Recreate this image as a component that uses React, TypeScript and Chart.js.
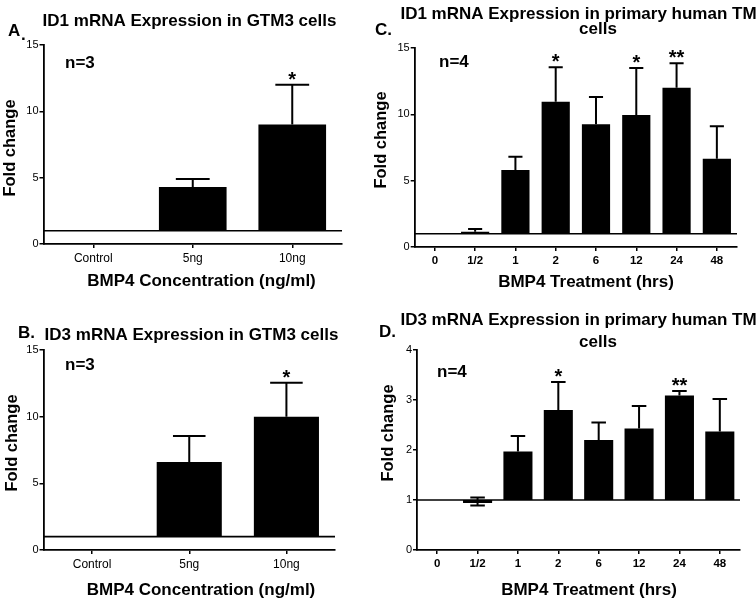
import React, { useEffect, useRef } from "react";
import { Chart, registerables } from "chart.js";

Chart.register(...registerables);

// ---- Data ----
const concCategories = ["Control", "5ng", "10ng"];
const timeCategories = ["0", "1/2", "1", "2", "6", "12", "24", "48"];

const id1GtmMeans = [1, 4.3, 9.0];
const id1GtmSem = [0, 0.6, 3.0];
const id1GtmStars = ["", "", "*"];

const id3GtmMeans = [1, 6.6, 10.0];
const id3GtmSem = [0, 1.95, 2.55];
const id3GtmStars = ["", "", "*"];

const id1TmMeans = [1, 1.15, 5.8, 10.95, 9.25, 9.95, 12.0, 6.65];
const id1TmSem = [0, 0.2, 1.0, 2.6, 2.05, 3.55, 1.85, 2.45];
const id1TmStars = ["", "", "", "*", "", "*", "**", ""];

const id3TmMeans = [1, 0.97, 1.97, 2.8, 2.2, 2.43, 3.09, 2.37];
const id3TmSem = [0, 0.08, 0.31, 0.56, 0.35, 0.45, 0.09, 0.65];
const id3TmStars = ["", "", "", "*", "", "", "**", ""];

const FONT = '"Liberation Sans", Arial, Helvetica, sans-serif';
const BASELINE = 1;

type TextItem = { text: string; x: number; y: number; size: number; bold?: boolean; rotate?: boolean; align?: CanvasTextAlign };

const annotPlugin = {
  id: "annot",
  afterDatasetsDraw(chart: any, _args: any, opts: any) {
    const { ctx, chartArea } = chart;
    const ys = chart.scales.y;
    ctx.save();
    ctx.strokeStyle = "#000";
    ctx.lineWidth = 1.6;
    const by = ys.getPixelForValue(BASELINE);
    ctx.beginPath();
    ctx.moveTo(chartArea.left, by);
    ctx.lineTo(chartArea.right, by);
    ctx.stroke();

    const meta = chart.getDatasetMeta(0);
    ctx.lineWidth = 2;
    opts.means.forEach((m: number, i: number) => {
      const s = opts.sems[i];
      const el = meta.data[i];
      if (!el) return;
      const x = el.x;
      const half = el.width / 4;
      if (s) {
        const ym = ys.getPixelForValue(m);
        const yt = ys.getPixelForValue(m + s);
        ctx.beginPath();
        ctx.moveTo(x, ym);
        ctx.lineTo(x, yt);
        ctx.moveTo(x - half, yt);
        ctx.lineTo(x + half, yt);
        if (m < BASELINE) {
          const yb = ys.getPixelForValue(m - s);
          ctx.moveTo(x, ym);
          ctx.lineTo(x, yb);
          ctx.moveTo(x - half, yb);
          ctx.lineTo(x + half, yb);
        }
        ctx.stroke();
        if (m < BASELINE) {
          ctx.lineWidth = 3;
          ctx.beginPath();
          ctx.moveTo(x - el.width / 2, ym);
          ctx.lineTo(x + el.width / 2, ym);
          ctx.stroke();
          ctx.lineWidth = 2;
        }
      }
      const star = opts.stars[i];
      if (star) {
        const yt = ys.getPixelForValue(m + s);
        ctx.fillStyle = "#000";
        ctx.font = `bold 20px ${FONT}`;
        ctx.textAlign = "center";
        ctx.textBaseline = "alphabetic";
        ctx.fillText(star, x, yt + 1);
      }
    });

    (opts.texts as TextItem[]).forEach((t) => {
      ctx.save();
      ctx.fillStyle = "#000";
      ctx.font = `${t.bold === false ? "" : "bold "}${t.size}px ${FONT}`;
      ctx.textAlign = t.align || "center";
      ctx.textBaseline = "middle";
      ctx.translate(t.x, t.y);
      if (t.rotate) ctx.rotate(-Math.PI / 2);
      ctx.fillText(t.text, 0, 0);
      ctx.restore();
    });
    ctx.restore();
  },
};

type PanelProps = {
  left: number;
  top: number;
  width: number;
  height: number;
  categories: string[];
  means: number[];
  sems: number[];
  stars: string[];
  yMax: number;
  yStep: number;
  area: { left: number; top: number; right: number; bottom: number };
  barPct: number;
  xTickBold?: boolean;
  xTickSize: number;
  texts: TextItem[];
};

function Panel(p: PanelProps) {
  const ref = useRef<HTMLCanvasElement>(null);
  useEffect(() => {
    if (!ref.current) return;
    const chart = new Chart(ref.current, {
      type: "bar",
      data: {
        labels: p.categories,
        datasets: [
          {
            data: p.means.map((m) => [BASELINE, m]) as any,
            backgroundColor: "#000",
            borderWidth: 0,
            barPercentage: p.barPct,
            categoryPercentage: 1,
          },
        ],
      },
      options: {
        responsive: false,
        animation: false,
        devicePixelRatio: 1,
        layout: {
          padding: { left: 0, top: p.area.top, right: p.width - p.area.right, bottom: 0 },
        },
        plugins: {
          legend: { display: false },
          tooltip: { enabled: false },
          title: { display: false },
          annot: { means: p.means, sems: p.sems, stars: p.stars, texts: p.texts },
        } as any,
        scales: {
          x: {
            offset: true,
            afterFit: (s: any) => {
              s.height = p.height - p.area.bottom;
            },
            grid: { drawOnChartArea: false, offset: false, color: "#000", lineWidth: 1.5, tickLength: 4 },
            border: { display: true, color: "#000", width: 1.8 },
            ticks: {
              color: "#000",
              font: { family: FONT, size: p.xTickSize, weight: p.xTickBold ? "bold" : "normal" },
              padding: 3,
              maxRotation: 0,
            },
          },
          y: {
            min: 0,
            max: p.yMax,
            afterFit: (s: any) => {
              s.width = p.area.left;
            },
            grid: { drawOnChartArea: false, color: "#000", lineWidth: 1.5, tickLength: 4 },
            border: { display: true, color: "#000", width: 1.8 },
            ticks: { stepSize: p.yStep, color: "#000", font: { family: FONT, size: 11 }, padding: 1 },
          },
        },
      },
      plugins: [annotPlugin as any],
    });
    return () => chart.destroy();
  }, []);
  return (
    <div style={{ position: "absolute", left: p.left, top: p.top, width: p.width, height: p.height }}>
      <canvas ref={ref} width={p.width} height={p.height} style={{ width: p.width, height: p.height, display: "block" }} />
    </div>
  );
}

export default function App() {
  return (
    <div style={{ position: "fixed", left: 0, top: 0, width: 756, height: 599, background: "#fff", overflow: "hidden" }}>
      <Panel
        left={0}
        top={0}
        width={366}
        height={300}
        categories={concCategories}
        means={id1GtmMeans}
        sems={id1GtmSem}
        stars={id1GtmStars}
        yMax={15}
        yStep={5}
        barPct={0.68}
        xTickSize={12}
        area={{ left: 43.5, top: 45, right: 342, bottom: 244 }}
        texts={[
          { text: "ID1 mRNA Expression in GTM3 cells", x: 189.5, y: 21, size: 17 },
          { text: "A", x: 8, y: 31, size: 17, align: "left" },
          { text: ".", x: 21, y: 35, size: 17, align: "left" },
          { text: "n=3", x: 65, y: 63, size: 17, align: "left" },
          { text: "Fold change", x: 10, y: 148, size: 16.5, rotate: true },
          { text: "BMP4 Concentration (ng/ml)", x: 201.5, y: 281, size: 17 },
        ]}
      />
      <Panel
        left={366}
        top={0}
        width={390}
        height={300}
        categories={timeCategories}
        means={id1TmMeans}
        sems={id1TmSem}
        stars={id1TmStars}
        yMax={15}
        yStep={5}
        barPct={0.7}
        xTickSize={11.5}
        xTickBold
        area={{ left: 48.7, top: 48, right: 371, bottom: 247 }}
        texts={[
          { text: "ID1 mRNA Expression in primary human TM", x: 212.5, y: 14, size: 17 },
          { text: "cells", x: 232, y: 29, size: 17 },
          { text: "C.", x: 9, y: 30, size: 17, align: "left" },
          { text: "n=4", x: 73, y: 62, size: 17, align: "left" },
          { text: "Fold change", x: 15, y: 140, size: 16.5, rotate: true },
          { text: "BMP4 Treatment (hrs)", x: 220, y: 282, size: 17 },
        ]}
      />
      <Panel
        left={0}
        top={300}
        width={366}
        height={299}
        categories={concCategories}
        means={id3GtmMeans}
        sems={id3GtmSem}
        stars={id3GtmStars}
        yMax={15}
        yStep={5}
        barPct={0.67}
        xTickSize={12}
        area={{ left: 43.5, top: 50, right: 335, bottom: 250 }}
        texts={[
          { text: "B.", x: 18, y: 33, size: 17, align: "left" },
          { text: "ID3 mRNA Expression in GTM3 cells", x: 191.5, y: 35, size: 17 },
          { text: "n=3", x: 65, y: 65, size: 17, align: "left" },
          { text: "Fold change", x: 12, y: 143, size: 16.5, rotate: true },
          { text: "BMP4 Concentration (ng/ml)", x: 201, y: 290, size: 17 },
        ]}
      />
      <Panel
        left={366}
        top={300}
        width={390}
        height={299}
        categories={timeCategories}
        means={id3TmMeans}
        sems={id3TmSem}
        stars={id3TmStars}
        yMax={4}
        yStep={1}
        barPct={0.72}
        xTickSize={11.5}
        xTickBold
        area={{ left: 51, top: 50, right: 374, bottom: 250 }}
        texts={[
          { text: "ID3 mRNA Expression in primary human TM", x: 212.5, y: 20, size: 17 },
          { text: "cells", x: 232, y: 42, size: 17 },
          { text: "D.", x: 13, y: 32, size: 17, align: "left" },
          { text: "n=4", x: 71, y: 72, size: 17, align: "left" },
          { text: "Fold change", x: 22, y: 133, size: 16.5, rotate: true },
          { text: "BMP4 Treatment (hrs)", x: 223, y: 290, size: 17 },
        ]}
      />
    </div>
  );
}
